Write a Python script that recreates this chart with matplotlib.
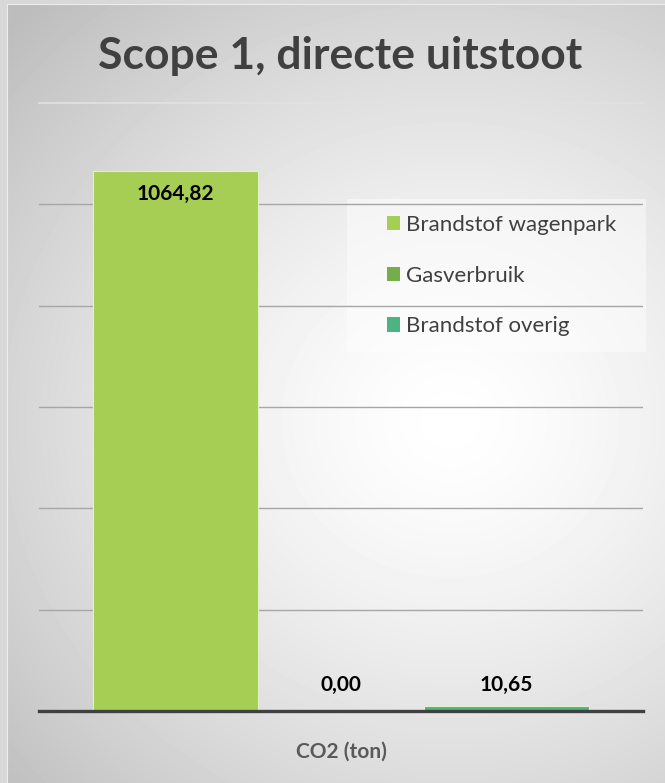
import numpy as np
import matplotlib
matplotlib.use("Agg")
import matplotlib.pyplot as plt
from matplotlib.patches import Patch, Rectangle

# data
category = ["CO2 (ton)"]
series = ["Brandstof wagenpark", "Gasverbruik", "Brandstof overig"]
values = [1064.82, 0.00, 10.65]
labels = ["1064,82", "0,00", "10,65"]
colors = ["#A6CE54", "#74AE4A", "#4DB385"]
yticks = [0, 200, 400, 600, 800, 1000]
ymax = 1200
title = "Scope 1, directe uitstoot"

plt.rcParams['font.family'] = ['Lato', 'DejaVu Sans']

W, H = 665, 783
fig = plt.figure(figsize=(W / 100, H / 100), dpi=100)

# radial grey -> white background, like the excel chart area
bg = fig.add_axes([0, 0, 1, 1], zorder=-2)
yy, xx = np.mgrid[0:H, 0:W]
r = np.sqrt(((xx - 450) / 560.0) ** 2 + ((yy - 420) / 520.0) ** 2)
img = 1.0 - 0.23 * np.clip(r, 0, 1.3) ** 1.4
img = np.clip(img, 0.74, 1.0)
bg.imshow(img, cmap="gray", vmin=0, vmax=1, extent=[0, W, H, 0], aspect="auto",
          interpolation="bilinear")
# slide margin strip at left/top
bg.add_patch(Rectangle((0, 0), 7, H, color="#d8d8d8", lw=0))
bg.add_patch(Rectangle((0, 0), W, 4, color="#d8d8d8", lw=0))
bg.plot([7, 7], [4, H], color="#ececec", lw=0.8)
bg.plot([7, W], [4, 4], color="#ececec", lw=0.8)
# legend box (excel draws it wider than the entries)
bg.add_patch(Rectangle((347, 199), 299, 153, facecolor="#ffffff", alpha=0.45, lw=0,
                       zorder=5))
bg.set_xlim(0, W)
bg.set_ylim(H, 0)
bg.axis("off")

# plot area in pixels: x 39..643, y 103..711
ax = fig.add_axes([39 / W, (H - 711) / H, (643 - 39) / W, (711 - 103) / H])
ax.set_facecolor("none")

width = 0.274
x = np.arange(len(category))
offsets = [-width, 0, width]
for i in range(len(series)):
    ax.bar(x + offsets[i], values[i], width, color=colors[i], edgecolor="#e4f0cc",
           linewidth=0.8, label=series[i], zorder=3)

ax.set_xlim(-0.5, 0.5)
ax.set_ylim(0, ymax)
ax.set_yticks(yticks)
ax.yaxis.grid(True, color="#a6a6a6", linewidth=1.0, zorder=0)
ax.axhline(ymax, color="#e2e2e2", linewidth=1.2, zorder=1, clip_on=False)
ax.tick_params(axis="y", left=False, labelleft=False)
ax.set_xticks(x)
ax.set_xticklabels(category, fontsize=15, fontweight="bold", color="#595959")
ax.tick_params(axis="x", length=0, pad=22)
for s in ["top", "left", "right"]:
    ax.spines[s].set_visible(False)
ax.spines["bottom"].set_color("#404040")
ax.spines["bottom"].set_linewidth(2.4)
ax.spines["bottom"].set_zorder(4)

# data labels: first one inside the bar, the small ones above
for i in range(len(series)):
    if values[i] > 100:
        off = -22
    else:
        off = 26 - values[i] / ymax * 608
    ax.annotate(labels[i], xy=(x[0] + offsets[i], values[i]), xytext=(0, off),
                textcoords="offset pixels", ha="center", va="center",
                fontsize=15, fontweight="bold", color="black", zorder=5)

fig.text(340 / W, 1 - 56 / H, title, ha="center", va="center",
         fontsize=32, fontweight="bold", color="#404040")

handles = [Patch(facecolor=c, edgecolor="none") for c in colors]
leg = fig.legend(handles, series, loc="upper left",
                 bbox_to_anchor=(387 / W, 1 - 215 / H),
                 fontsize=16, frameon=False,
                 handlelength=0.6, handleheight=0.6, handletextpad=0.25,
                 labelspacing=1.38, borderpad=0.0, borderaxespad=0)
for t in leg.get_texts():
    t.set_color("#404040")
leg.set_zorder(6)

fig.savefig("out.png", dpi=100)
